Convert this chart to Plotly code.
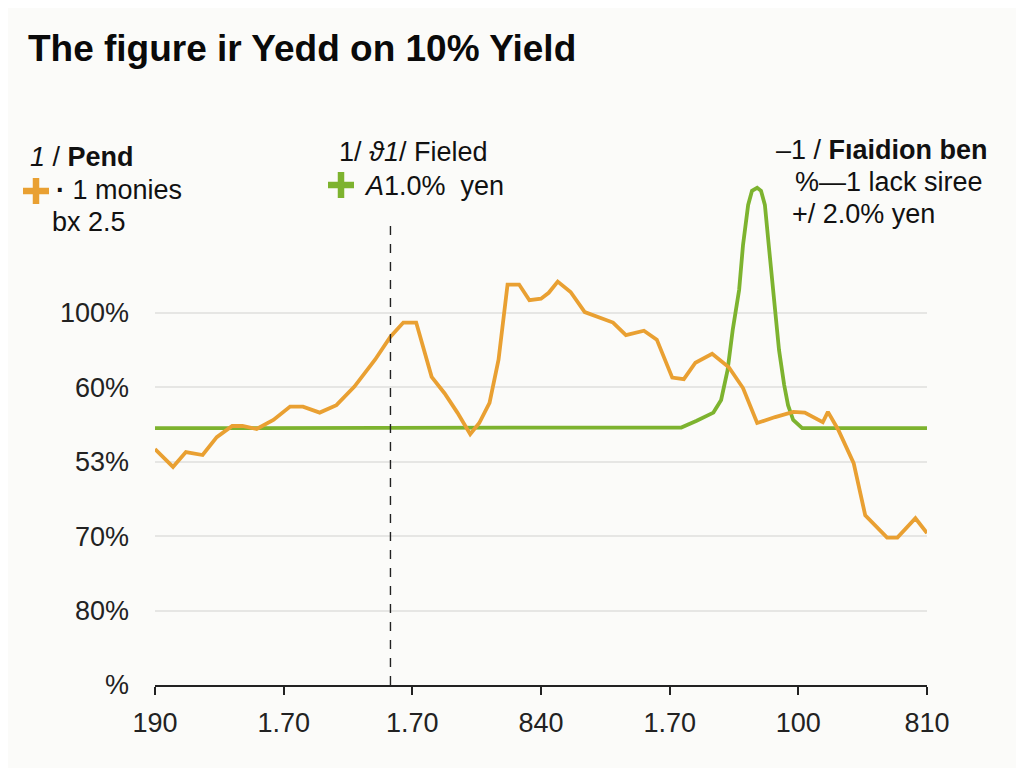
import plotly.graph_objects as go

# ---- data ----
x_tick_vals = [0, 1, 2, 3, 4, 5, 6]
x_tick_text = ["190", "1.70", "1.70", "840", "1.70", "100", "810"]
y_tick_vals = [0, 1, 2, 3, 4, 5]
y_tick_text = ["%", "80%", "70%", "53%", "60%", "100%"]

pend_x = [0.0, 0.14, 0.24, 0.37, 0.48, 0.60, 0.68, 0.79, 0.92, 1.05, 1.15, 1.28, 1.41,
          1.55, 1.71, 1.83, 1.93, 2.03, 2.15, 2.25, 2.35, 2.45, 2.52, 2.60, 2.67, 2.74,
          2.83, 2.91, 3.00, 3.06, 3.13, 3.23, 3.34, 3.46, 3.56, 3.66, 3.80, 3.90, 4.02,
          4.11, 4.20, 4.33, 4.46, 4.57, 4.68, 4.82, 4.96, 5.05, 5.19, 5.23, 5.31, 5.43,
          5.52, 5.69, 5.77, 5.91, 6.0]
pend_y = [3.17, 2.93, 3.13, 3.09, 3.33, 3.48, 3.48, 3.44, 3.56, 3.74, 3.74, 3.66, 3.76,
          4.01, 4.37, 4.68, 4.87, 4.87, 4.14, 3.92, 3.66, 3.37, 3.52, 3.79, 4.37, 5.38,
          5.38, 5.17, 5.19, 5.27, 5.42, 5.28, 5.01, 4.93, 4.87, 4.70, 4.76, 4.64, 4.13,
          4.11, 4.33, 4.45, 4.27, 3.99, 3.52, 3.60, 3.67, 3.66, 3.53, 3.67, 3.43, 2.98,
          2.28, 1.98, 1.98, 2.24, 2.04]

field_x = [0.0, 4.09, 4.21, 4.34, 4.40, 4.45, 4.49, 4.54, 4.57, 4.61, 4.64, 4.68, 4.71,
           4.74, 4.77, 4.81, 4.85, 4.89, 4.92, 4.96, 5.03, 6.0]
field_y = [3.45, 3.46, 3.55, 3.66, 3.83, 4.23, 4.77, 5.31, 5.91, 6.45, 6.64, 6.68, 6.64,
           6.45, 5.91, 5.17, 4.50, 4.03, 3.76, 3.56, 3.45, 3.45]

marker_x = 1.83

ORANGE = "#e9a032"
GREEN = "#7db32f"
FONT = "Liberation Sans, Arial, sans-serif"

fig = go.Figure()
fig.add_trace(go.Scatter(x=field_x, y=field_y, mode="lines",
                         line=dict(color=GREEN, width=3.8),
                         showlegend=False, hoverinfo="skip"))
fig.add_trace(go.Scatter(x=pend_x, y=pend_y, mode="lines",
                         line=dict(color=ORANGE, width=3.8),
                         showlegend=False, hoverinfo="skip"))

fig.add_shape(type="line", x0=marker_x, x1=marker_x, y0=0, y1=6.17,
              xref="x", yref="y", line=dict(color="#222", width=1.4, dash="dash"))

def px(xp):
    return (xp - 155) / 772.0

def py(yp):
    return (685 - yp) / 521.0

def plus(cx, cy, color, r=13):
    fig.add_shape(type="line", xref="paper", yref="paper",
                  x0=px(cx - r), x1=px(cx + r), y0=py(cy), y1=py(cy),
                  line=dict(color=color, width=6.5))
    fig.add_shape(type="line", xref="paper", yref="paper",
                  x0=px(cx), x1=px(cx), y0=py(cy - r), y1=py(cy + r),
                  line=dict(color=color, width=6.5))

plus(36, 191, ORANGE)
plus(341, 185, GREEN)

def note(text, x, y, size=27):
    fig.add_annotation(text=text, xref="paper", yref="paper", x=px(x), y=py(y),
                       xanchor="left", yanchor="middle", showarrow=False,
                       font=dict(family=FONT, size=size, color="#111"))

note("<i>1</i> / <b>Pend</b>", 28, 157)
note("<b>·</b>\u00a01 monies", 54, 190)
note("bx 2.5", 50, 222)
note("1/ <i>ϑ1</i>/ Fieled", 337, 152)
note("<i>A</i>1.0%\u00a0 yen", 362, 186)
note("‒1 / <b>Fıaidion ben</b>", 774, 150)
note("%—1 lack siree", 793, 182)
note("+/ 2.0% yen", 790, 214)

fig.update_layout(
    width=1024, height=768,
    margin=dict(l=147, r=105, t=156, b=91),
    paper_bgcolor="#fbfbf9", plot_bgcolor="#fbfbf9",
    title=dict(text="<b>The figure ir Yedd on 10% Yield</b>", x=0.0195, xanchor="left",
               y=0.948, yanchor="middle",
               font=dict(family=FONT, size=37, color="#0a0a0a")),
    xaxis=dict(range=[0, 6], tickvals=x_tick_vals, ticktext=x_tick_text,
               showgrid=False, zeroline=False, showline=True, linecolor="#222",
               linewidth=2, ticks="outside", ticklen=8, tickwidth=1.5, tickcolor="#222",
               ticklabelstandoff=5,
               tickfont=dict(family=FONT, size=27, color="#222")),
    yaxis=dict(range=[0, 7], tickvals=y_tick_vals, ticktext=y_tick_text,
               showgrid=True, gridcolor="#e6e6e4", gridwidth=1.5, zeroline=False,
               showline=False, ticks="", ticklabelstandoff=25,
               tickfont=dict(family=FONT, size=27, color="#222")),
)

fig.write_html("out.html")
